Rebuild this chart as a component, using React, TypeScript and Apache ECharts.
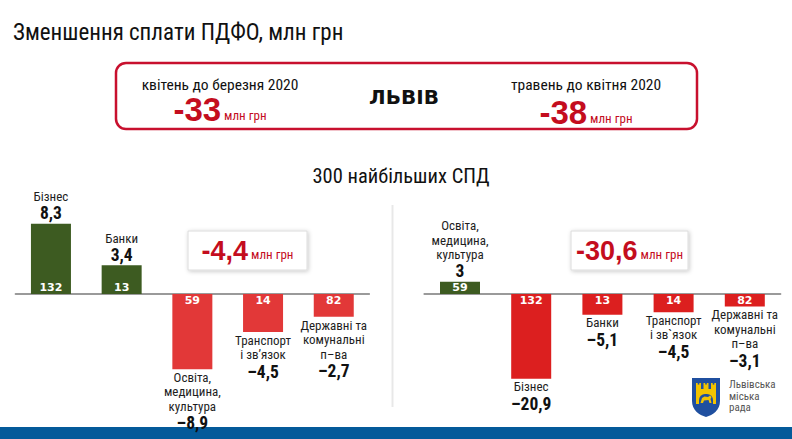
import React, { useEffect, useRef } from 'react';
import * as echarts from 'echarts';

// ---- Data ----
const title = 'Зменшення сплати ПДФО, млн грн';
const cityName = 'ЛЬВІВ';
const periodLabels = ['квітень до березня 2020', 'травень до квітня 2020'];
const periodDeltas = [-33, -38];
const unit = 'млн грн';
const subtitle = '300 найбільших СПД';

// April vs March 2020
const leftCategories = [
  'Бізнес',
  'Банки',
  'Освіта,\nмедицина,\nкультура',
  'Транспорт\nі зв’язок',
  'Державні та\nкомунальні\nп–ва',
];
const leftValues = [8.3, 3.4, -8.9, -4.5, -2.7];
const leftCounts = [132, 13, 59, 14, 82];

// May vs April 2020
const rightCategories = [
  'Освіта,\nмедицина,\nкультура',
  'Бізнес',
  'Банки',
  'Транспорт\nі зв`язок',
  'Державні та\nкомунальні\nп–ва',
];
const rightValues = [3, -20.9, -5.1, -4.5, -3.1];
const rightCounts = [59, 132, 13, 14, 82];

const logoLines = ['Львівська', 'міська', 'рада'];

// ---- Styles ----
const NARROW = "'Liberation Sans Narrow', 'Roboto Condensed', 'DejaVu Sans Condensed', Roboto, sans-serif";
const HEAVY = "'Liberation Sans', Arial, sans-serif";
const BLACK = "'DejaVu Sans', sans-serif";
const GREEN = '#3d5b21';
const RED_LEFT = '#e23838';
const RED_RIGHT = '#dc1f1f';
const DARK_RED = '#c40d1e';
const BLUE = '#045a9a';

const SHIELD_D = 'M0 0H28V23C28 32 21 37 14 39C7 37 0 32 0 23Z';
echarts.graphic.registerShape('shield', echarts.graphic.extendPath(SHIELD_D, {}) as any);

function fmtValue(v: number): string {
  const a = Math.abs(v);
  const s = Number.isInteger(a) ? String(a) : a.toFixed(1).replace('.', ',');
  return v < 0 ? '–' + s : s;
}

function fmtTotal(v: number): string {
  const s = Math.abs(v).toFixed(1).replace('.', ',');
  return v < 0 ? '-' + s : s;
}

const labelRich = {
  n: { fontSize: 13, lineHeight: 14.5, color: '#1e1e1e', fontFamily: NARROW },
  v: { fontSize: 17.5, lineHeight: 19, color: '#111', fontFamily: NARROW, fontWeight: 'bold' as const },
};

function buildSeries(axis: number, cats: string[], values: number[], counts: number[], red: string) {
  return [
    {
      type: 'bar',
      xAxisIndex: axis,
      yAxisIndex: axis,
      barWidth: 40,
      barGap: '-100%',
      z: 2,
      data: values.map((v) => ({
        value: v,
        itemStyle: { color: v >= 0 ? GREEN : red },
        label: { position: v >= 0 ? 'insideBottom' : 'insideTop' },
      })),
      label: {
        show: true,
        distance: 1,
        color: '#fff',
        fontSize: 11,
        fontWeight: 'bold',
        fontFamily: BLACK,
        formatter: (p: any) => String(counts[p.dataIndex]),
      },
    },
    {
      type: 'bar',
      xAxisIndex: axis,
      yAxisIndex: axis,
      barWidth: 40,
      barGap: '-100%',
      z: 3,
      silent: true,
      itemStyle: { color: 'rgba(0,0,0,0)' },
      data: values.map((v) => ({
        value: v,
        label: { position: v >= 0 ? 'top' : 'bottom', distance: v >= 0 ? 1 : 1 },
      })),
      label: {
        show: true,
        rich: labelRich,
        formatter: (p: any) => {
          const i = p.dataIndex;
          const lines = cats[i].split('\n').map((l) => `{n|${l}}`).join('\n');
          return `${lines}\n{v|${fmtValue(values[i])}}`;
        },
      },
    },
  ];
}

function text(x: number, y: number, t: string, style: any, extra: any = {}) {
  return {
    type: 'text',
    x,
    y,
    style: {
      text: t,
      textAlign: 'center',
      align: 'center',
      textVerticalAlign: 'middle',
      verticalAlign: 'middle',
      ...style,
    },
    ...extra,
  };
}

function totalBox(x: number, y: number, w: number, h: number, total: number) {
  return [
    {
      type: 'rect',
      shape: { x, y, width: w, height: h },
      style: {
        fill: '#fff',
        stroke: '#dcdcdc',
        lineWidth: 1,
        shadowBlur: 4,
        shadowOffsetX: 1,
        shadowOffsetY: 1,
        shadowColor: 'rgba(0,0,0,0.22)',
      },
      z: 10,
    },
    text(
      x + w / 2,
      y + h / 2,
      `{b|${fmtTotal(total)}}{s| ${unit}}`,
      {
        rich: {
          b: { fontSize: 27, fontWeight: 'bold', fill: DARK_RED, color: DARK_RED, fontFamily: HEAVY, verticalAlign: 'bottom' },
          s: { fontSize: 13, fill: DARK_RED, color: DARK_RED, fontFamily: NARROW, verticalAlign: 'bottom', padding: [0, 0, 3, 0] },
        },
      },
      { z: 11 }
    ),
  ];
}

function periodBlock(cx: number, labelY: number, valueY: number, label: string, delta: number) {
  return [
    text(cx, labelY, label, { fontSize: 15.5, fontFamily: NARROW, fill: '#111' }),
    text(cx, valueY, `{b|${delta}}{s| ${unit}}`, {
      rich: {
        b: { fontSize: 33, fontWeight: 'bold', fill: DARK_RED, color: DARK_RED, fontFamily: HEAVY, verticalAlign: 'bottom' },
        s: { fontSize: 13, fill: DARK_RED, color: DARK_RED, fontFamily: NARROW, verticalAlign: 'bottom', padding: [0, 0, 4, 0] },
      },
    }),
  ];
}

const leftTotal = leftValues.reduce((a, b) => a + b, 0);
const rightTotal = rightValues.reduce((a, b) => a + b, 0);

export default function App() {
  const ref = useRef<HTMLDivElement>(null);

  useEffect(() => {
    if (!ref.current) return;
    const chart = echarts.init(ref.current, undefined, { renderer: 'svg' });

    const axisLine = { onZero: true, lineStyle: { color: '#9a9a9a', width: 2 } };

    chart.setOption({
      animation: false,
      backgroundColor: '#fff',
      grid: [
        { left: 15.6, top: 209.5, width: 353.5, height: 169 },
        { left: 424.4, top: 192.75, width: 356, height: 202.5 },
      ],
      xAxis: [
        { type: 'category', gridIndex: 0, data: leftCategories, axisLine, axisTick: { show: false }, axisLabel: { show: false } },
        { type: 'category', gridIndex: 1, data: rightCategories, axisLine, axisTick: { show: false }, axisLabel: { show: false } },
      ],
      yAxis: [
        { type: 'value', gridIndex: 0, min: -10, max: 10, show: false, splitLine: { show: false } },
        { type: 'value', gridIndex: 1, min: -25, max: 25, show: false, splitLine: { show: false } },
      ],
      series: [
        ...buildSeries(0, leftCategories, leftValues, leftCounts, RED_LEFT),
        ...buildSeries(1, rightCategories, rightValues, rightCounts, RED_RIGHT),
      ],
      graphic: [
        // title
        {
          type: 'text',
          x: 13,
          y: 32,
          style: {
            text: title,
            fontSize: 23,
            fontFamily: NARROW,
            fill: '#111',
            textVerticalAlign: 'middle',
            verticalAlign: 'middle',
          },
        },
        // period summary box
        {
          type: 'rect',
          shape: { x: 116, y: 63, width: 581, height: 66, r: 10 },
          style: { fill: '#fff', stroke: '#c8102e', lineWidth: 2.5 },
        },
        ...periodBlock(220, 85, 109, periodLabels[0], periodDeltas[0]),
        ...periodBlock(586, 85, 112, periodLabels[1], periodDeltas[1]),
        text(404, 97, cityName, { fontSize: 20, fontWeight: 'bold', fontFamily: BLACK, fill: '#111' }),
        // subtitle
        text(401, 176, subtitle, { fontSize: 20.5, fontFamily: NARROW, fill: '#111' }),
        // divider between the two charts
        {
          type: 'line',
          shape: { x1: 392.5, y1: 205, x2: 392.5, y2: 407 },
          style: { stroke: '#e8e8e8', lineWidth: 2 },
        },
        ...totalBox(188, 231, 119, 39, leftTotal),
        ...totalBox(571, 231, 117, 39, rightTotal),
        // city council emblem
        {
          type: 'group',
          x: 692,
          y: 378,
          children: [
            { type: 'shield', style: { fill: '#1f4f9f' } },
            { type: 'rect', shape: { x: 4, y: 11, width: 20, height: 15 }, style: { fill: '#f2c300' } },
            { type: 'rect', shape: { x: 4, y: 5, width: 5, height: 7 }, style: { fill: '#f2c300' } },
            { type: 'rect', shape: { x: 11.5, y: 5, width: 5, height: 7 }, style: { fill: '#f2c300' } },
            { type: 'rect', shape: { x: 19, y: 5, width: 5, height: 7 }, style: { fill: '#f2c300' } },
            { type: 'rect', shape: { x: 5.7, y: 5, width: 1.6, height: 1.6 }, style: { fill: '#1f4f9f' } },
            { type: 'rect', shape: { x: 13.2, y: 5, width: 1.6, height: 1.6 }, style: { fill: '#1f4f9f' } },
            { type: 'rect', shape: { x: 20.7, y: 5, width: 1.6, height: 1.6 }, style: { fill: '#1f4f9f' } },
            { type: 'rect', shape: { x: 7, y: 16, width: 14, height: 10, r: [6, 6, 0, 0] }, style: { fill: '#1f4f9f' } },
            {
              type: 'polygon',
              shape: {
                points: [[8.5, 25], [10, 20], [12.5, 18.5], [16, 19], [18, 17.5], [19.5, 19], [18.5, 21], [19.5, 25], [17.5, 25], [16.5, 22], [12, 22.5], [11, 25]],
              },
              style: { fill: '#f2c300' },
            },
          ],
        },
        {
          type: 'text',
          x: 729,
          y: 379,
          style: {
            text: logoLines.join('\n'),
            fontSize: 11,
            lineHeight: 11.5,
            fontFamily: NARROW,
            fill: '#555',
          },
        },
        // bottom stripe
        { type: 'rect', shape: { x: 0, y: 427, width: 792, height: 12 }, style: { fill: BLUE } },
      ],
    });

    return () => chart.dispose();
  }, []);

  return (
    <div
      ref={ref}
      style={{ position: 'absolute', left: 0, top: 0, width: 792, height: 439, background: '#fff' }}
    />
  );
}
